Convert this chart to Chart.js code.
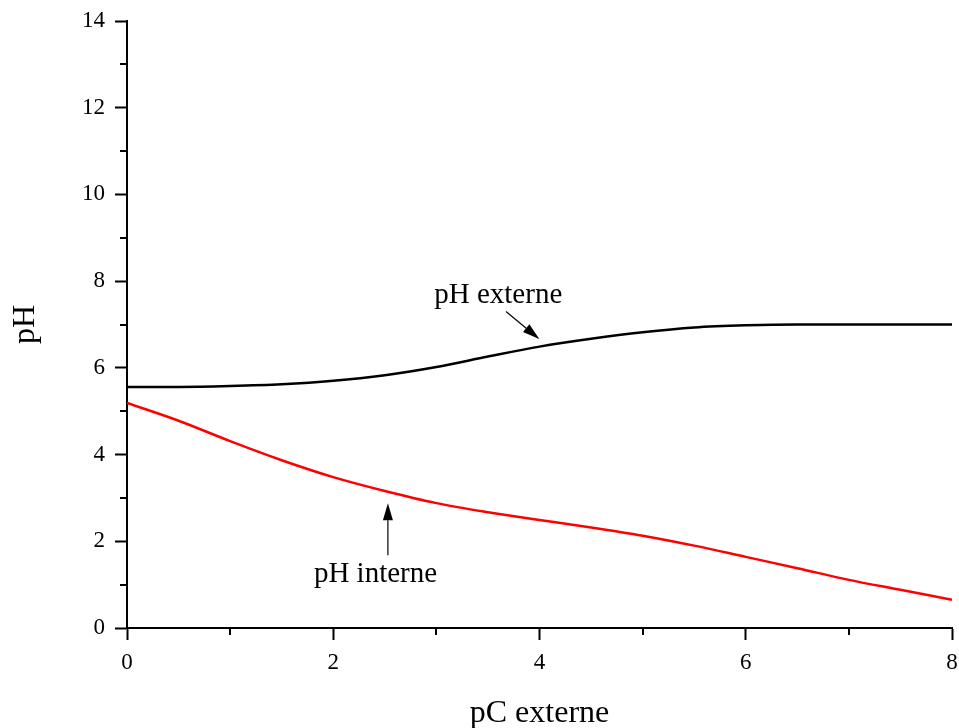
<!DOCTYPE html>
<html>
<head>
<meta charset="utf-8">
<script src="https://cdn.jsdelivr.net/npm/chart.js@4.4.1/dist/chart.umd.min.js"></script>
<style>
  html, body { margin: 0; padding: 0; background: #fff; }
  .wrap { width: 959px; height: 728px; }
</style>
</head>
<body>
<div class="wrap"><canvas id="phChart"></canvas></div>
<script>
// values
const pcExterne = [0, 0.5, 1, 1.5, 2, 2.5, 3, 3.5, 4, 4.5, 5, 5.5, 6, 6.5, 7, 7.5, 8];
const phExterne = [5.56, 5.56, 5.58, 5.62, 5.70, 5.83, 6.02, 6.26, 6.49, 6.67, 6.82, 6.93, 6.98, 7.0, 7.0, 7.0, 7.0];
const phInterne = [5.19, 4.78, 4.31, 3.87, 3.48, 3.16, 2.88, 2.67, 2.49, 2.32, 2.13, 1.90, 1.64, 1.38, 1.11, 0.88, 0.65];

const xTicks = [0, 2, 4, 6, 8];
const yTicks = [0, 2, 4, 6, 8, 10, 12, 14];
const xMinor = [1, 3, 5, 7];
const yMinor = [1, 3, 5, 7, 9, 11, 13];

// labels + arrows, in data units
const notes = [
  { text: 'pH externe', x: 3.60, y: 7.49, from: [3.675, 7.30], to: [3.998, 6.665] },
  { text: 'pH interne', x: 2.41, y: 1.055, from: [2.53, 1.68], to: [2.53, 2.876] }
];

Chart.defaults.font.family = '"Liberation Serif", "Times New Roman", serif';
Chart.defaults.color = '#000';

const toPoints = ys => pcExterne.map((v, i) => ({ x: v, y: ys[i] }));

const extras = {
  id: 'extras',
  afterDraw(chart) {
    const { ctx, scales: { x, y } } = chart;
    ctx.save();
    ctx.strokeStyle = '#000';
    ctx.lineWidth = 2;
    // minor ticks
    xMinor.forEach(v => {
      const px = Math.round(x.getPixelForValue(v));
      ctx.beginPath();
      ctx.moveTo(px, y.bottom);
      ctx.lineTo(px, y.bottom + 7);
      ctx.stroke();
    });
    yMinor.forEach(v => {
      const py = Math.round(y.getPixelForValue(v));
      ctx.beginPath();
      ctx.moveTo(x.left, py);
      ctx.lineTo(x.left - 7, py);
      ctx.stroke();
    });

    // annotations
    ctx.fillStyle = '#000';
    ctx.font = '29px "Liberation Serif", serif';
    ctx.textAlign = 'center';
    ctx.textBaseline = 'alphabetic';
    notes.forEach(n => {
      ctx.fillText(n.text, x.getPixelForValue(n.x), y.getPixelForValue(n.y));

      const x0 = x.getPixelForValue(n.from[0]), y0 = y.getPixelForValue(n.from[1]);
      const x1 = x.getPixelForValue(n.to[0]), y1 = y.getPixelForValue(n.to[1]);
      const ang = Math.atan2(y1 - y0, x1 - x0);
      const headLen = 17, headW = 5;
      const bx = x1 - headLen * Math.cos(ang), by = y1 - headLen * Math.sin(ang);

      ctx.lineWidth = 1.2;
      ctx.beginPath();
      ctx.moveTo(x0, y0);
      ctx.lineTo(bx, by);
      ctx.stroke();

      ctx.beginPath();
      ctx.moveTo(x1, y1);
      ctx.lineTo(bx + headW * Math.sin(ang), by - headW * Math.cos(ang));
      ctx.lineTo(bx - headW * Math.sin(ang), by + headW * Math.cos(ang));
      ctx.closePath();
      ctx.fill();
    });
    ctx.restore();
  }
};

new Chart(document.getElementById('phChart'), {
  type: 'line',
  data: {
    datasets: [
      {
        label: 'pH externe',
        data: toPoints(phExterne),
        borderColor: '#000',
        borderWidth: 2.5,
        pointRadius: 0,
        cubicInterpolationMode: 'monotone'
      },
      {
        label: 'pH interne',
        data: toPoints(phInterne),
        borderColor: '#ff0000',
        borderWidth: 2.5,
        pointRadius: 0,
        cubicInterpolationMode: 'monotone'
      }
    ]
  },
  options: {
    responsive: true,
    maintainAspectRatio: false,
    animation: false,
    layout: { padding: { top: 21, right: 7, left: 0, bottom: 0 } },
    plugins: {
      legend: { display: false },
      tooltip: { enabled: false }
    },
    scales: {
      x: {
        type: 'linear',
        min: 0,
        max: 8,
        afterBuildTicks: s => { s.ticks = xTicks.map(v => ({ value: v })); },
        afterFit: s => { s.height = 100; s.paddingLeft = 0; s.paddingRight = 0; },
        grid: { drawOnChartArea: false, tickLength: 12, tickWidth: 2, tickColor: '#000' },
        border: { display: true, color: '#000', width: 2 },
        ticks: { padding: 9, font: { size: 23 } },
        title: {
          display: true,
          text: 'pC externe',
          font: { size: 32 },
          padding: { top: 0, bottom: -5 }
        }
      },
      y: {
        min: 0,
        max: 14,
        afterBuildTicks: s => { s.ticks = yTicks.map(v => ({ value: v })); },
        afterFit: s => { s.width = 127; s.paddingTop = 0; s.paddingBottom = 0; },
        grid: { drawOnChartArea: false, tickLength: 12, tickWidth: 2, tickColor: '#000' },
        border: { display: true, color: '#000', width: 2 },
        ticks: { padding: 10, font: { size: 23 } },
        title: {
          display: true,
          text: 'pH',
          font: { size: 32 },
          padding: { top: 6, bottom: 0 }
        }
      }
    }
  },
  plugins: [extras]
});
</script>
</body>
</html>
